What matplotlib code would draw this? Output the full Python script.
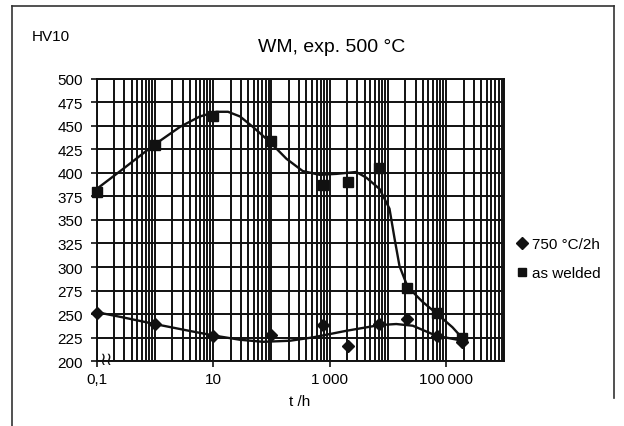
import matplotlib
matplotlib.use("Agg")
import matplotlib.pyplot as plt
from matplotlib.ticker import LogLocator, FixedLocator, NullFormatter
from matplotlib.lines import Line2D
import numpy as np

plt.rcParams['font.family'] = ['Liberation Sans', 'DejaVu Sans']

# measured points
t_welded = [0.1, 1, 10, 100, 760, 2040, 7200, 21000, 71000, 190000]
hv_welded = [380, 430, 461, 434, 387, 390, 405, 278, 251, 225]

t_pwht = [0.1, 1, 10, 100, 760, 2040, 7200, 21000, 71000, 190000]
hv_pwht = [251, 239, 227, 228, 238, 216, 239, 245, 227, 220]

# smoothed trend curves
t_curve_welded = [0.1, 0.28, 0.93, 2.7, 5.9, 11.4, 18, 29, 48, 94, 182, 346, 676,
                  1310, 2880, 4280, 7230, 10700, 13100, 15900, 21900, 39600,
                  77400, 129000, 207000]
hv_curve_welded = [383, 404, 429, 449, 460, 465, 465, 460, 449, 433, 415, 402, 398,
                   399, 401, 395, 383, 362, 330, 301, 279, 263, 248, 236, 222]

t_curve_pwht = [0.1, 0.28, 1.07, 4.0, 10.7, 28.7, 72, 207, 519, 1940, 7230,
                14000, 26900, 67900, 194000]
hv_curve_pwht = [252, 246.5, 239, 232, 227, 222.7, 220.5, 221.6, 225.2, 232.2,
                 238.3, 239.4, 237.6, 227, 221.6]

x_ticks = [0.1, 10, 1000, 100000]
x_labels = ["0,1", "10", "1\u2009000", "100\u2009000"]
y_ticks = list(range(200, 501, 25))

ink = '#111111'

fig = plt.figure(figsize=(6.24, 4.27), dpi=100)
ax = fig.add_axes([0.155, 0.152, 0.653, 0.661])

ax.set_xscale('log')
ax.set_xlim(0.1, 1e6)
ax.set_ylim(200, 500)

# grid: every 1..9 of each decade, dark heavy lines like the scan
ax.xaxis.set_major_locator(FixedLocator(x_ticks))
ax.xaxis.set_minor_locator(LogLocator(base=10, subs=np.arange(1, 10), numticks=100))
ax.xaxis.set_minor_formatter(NullFormatter())
ax.set_xticks(x_ticks)
ax.set_xticklabels(x_labels)
ax.set_yticks(y_ticks)
ax.grid(True, which='both', axis='x', color=ink, linewidth=1.4)
ax.grid(True, which='major', axis='y', color=ink, linewidth=1.4)
ax.set_axisbelow(True)
ax.tick_params(axis='x', which='minor', length=0)
ax.tick_params(axis='both', which='major', direction='out', length=4, width=1.2,
               labelsize=11, color=ink)
ax.tick_params(axis='y', pad=6)
for s in ax.spines.values():
    s.set_color(ink)
    s.set_linewidth(1.4)

ax.plot(t_curve_welded, hv_curve_welded, color=ink, lw=1.7, zorder=3)
ax.plot(t_curve_pwht, hv_curve_pwht, color=ink, lw=1.7, zorder=3)
ax.plot(t_welded, hv_welded, 's', color=ink, ms=6.5, zorder=4, clip_on=False)
ax.plot(t_pwht, hv_pwht, 'D', color=ink, ms=6, zorder=4, clip_on=False)

# axis break mark
ax.text(0.006, -0.025, "\u2240\u2240", transform=ax.transAxes, fontsize=13,
        ha='left', va='bottom', color=ink, family='DejaVu Sans', zorder=5)

ax.set_xlabel("t /h", fontsize=11)
ax.xaxis.set_label_coords(0.497, -0.115)

fig.text(0.051, 0.913, "HV10", fontsize=11, ha='left', va='center')
fig.text(0.531, 0.889, "WM, exp. 500 °C", fontsize=14, ha='center', va='center')

# legend
handles = [Line2D([], [], marker='D', ls='none', color=ink, ms=6),
           Line2D([], [], marker='s', ls='none', color=ink, ms=6)]
fig.legend(handles, ["750 °C/2h", "as welded"], loc='center left',
           bbox_to_anchor=(0.820, 0.392), frameon=False, fontsize=11,
           handlelength=0.6, handletextpad=0.3, labelspacing=1.0,
           borderaxespad=0)

# outer frame
frame_kw = dict(color='#333333', lw=1.2, transform=fig.transFigure)
fig.add_artist(Line2D([0.020, 0.020], [0.0, 0.984], **frame_kw))
fig.add_artist(Line2D([0.020, 0.984], [0.984, 0.984], **frame_kw))
fig.add_artist(Line2D([0.984, 0.984], [0.065, 0.984], **frame_kw))

fig.savefig("out.png", dpi=100)
